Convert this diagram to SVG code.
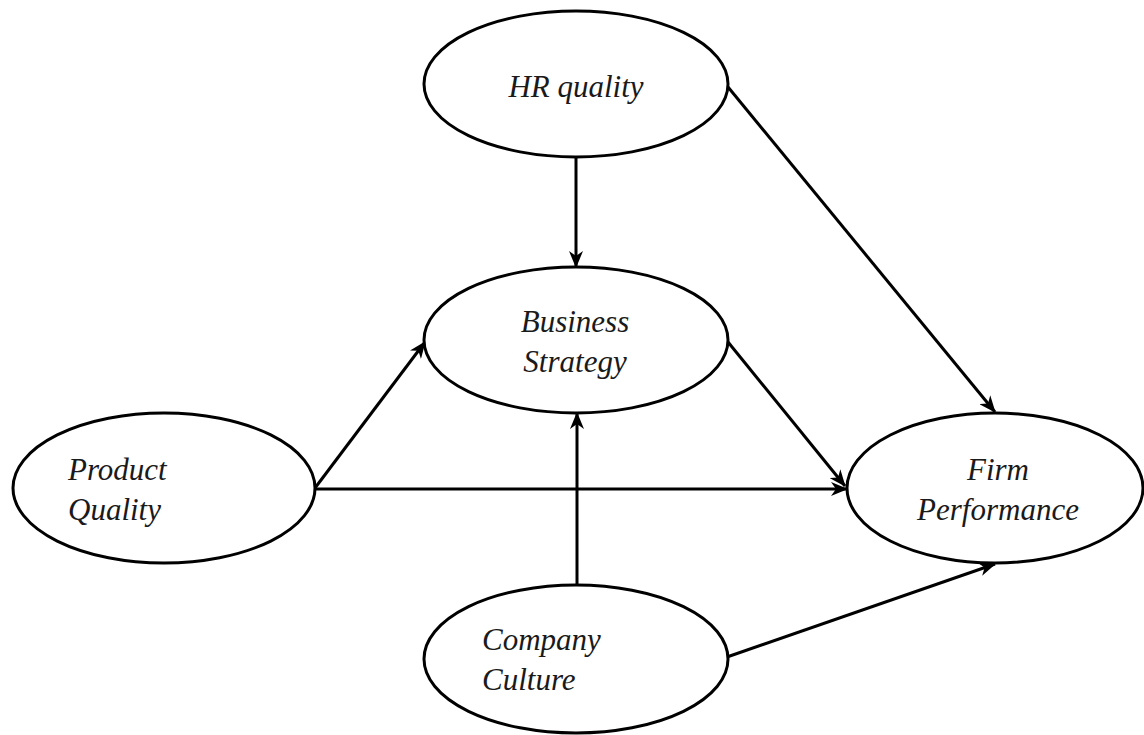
<svg xmlns="http://www.w3.org/2000/svg" width="1144" height="735" viewBox="0 0 1144 735">
<style>
.node ellipse{fill:#fff;stroke:#000;stroke-width:3}
.node text{font-family:"Liberation Serif","Times New Roman",serif;font-style:italic;font-size:31px;fill:#1a1a1a}
.c{text-anchor:middle}
#connectors line{stroke:#000;stroke-width:3;fill:none;marker-end:url(#arr)}
</style>
<defs>
<marker id="arr" markerUnits="userSpaceOnUse" markerWidth="18" markerHeight="14" refX="16" refY="7" orient="auto">
<path d="M0,0 L17,7 L0,14 L5,7 Z" fill="#000"/>
</marker>
</defs>
<rect width="1144" height="735" fill="#fff"/>
<g id="connectors">
<line x1="576" y1="157" x2="576" y2="267"/>
<line x1="728" y1="87" x2="995" y2="412"/>
<line x1="315" y1="488" x2="425" y2="342"/>
<line x1="315" y1="489" x2="847" y2="489"/>
<line x1="728" y1="342" x2="845" y2="486"/>
<line x1="577" y1="584" x2="577" y2="413"/>
<line x1="727" y1="657" x2="995" y2="564"/>
</g>
<g id="hr" class="node">
<ellipse cx="576" cy="84" rx="152" ry="73"/>
<text class="c" x="576" y="97">HR quality</text>
</g>
<g id="bs" class="node">
<ellipse cx="576" cy="340" rx="152" ry="73"/>
<text class="c" x="575" y="332">Business</text>
<text class="c" x="575" y="372">Strategy</text>
</g>
<g id="pq" class="node">
<ellipse cx="164" cy="488" rx="151" ry="75"/>
<text x="68" y="480">Product</text>
<text x="68" y="520">Quality</text>
</g>
<g id="fp" class="node">
<ellipse cx="995" cy="488" rx="148" ry="75"/>
<text class="c" x="998" y="480">Firm</text>
<text class="c" x="998" y="520">Performance</text>
</g>
<g id="cc" class="node">
<ellipse cx="576" cy="659" rx="152" ry="74"/>
<text x="482" y="650">Company</text>
<text x="482" y="690">Culture</text>
</g>
</svg>
